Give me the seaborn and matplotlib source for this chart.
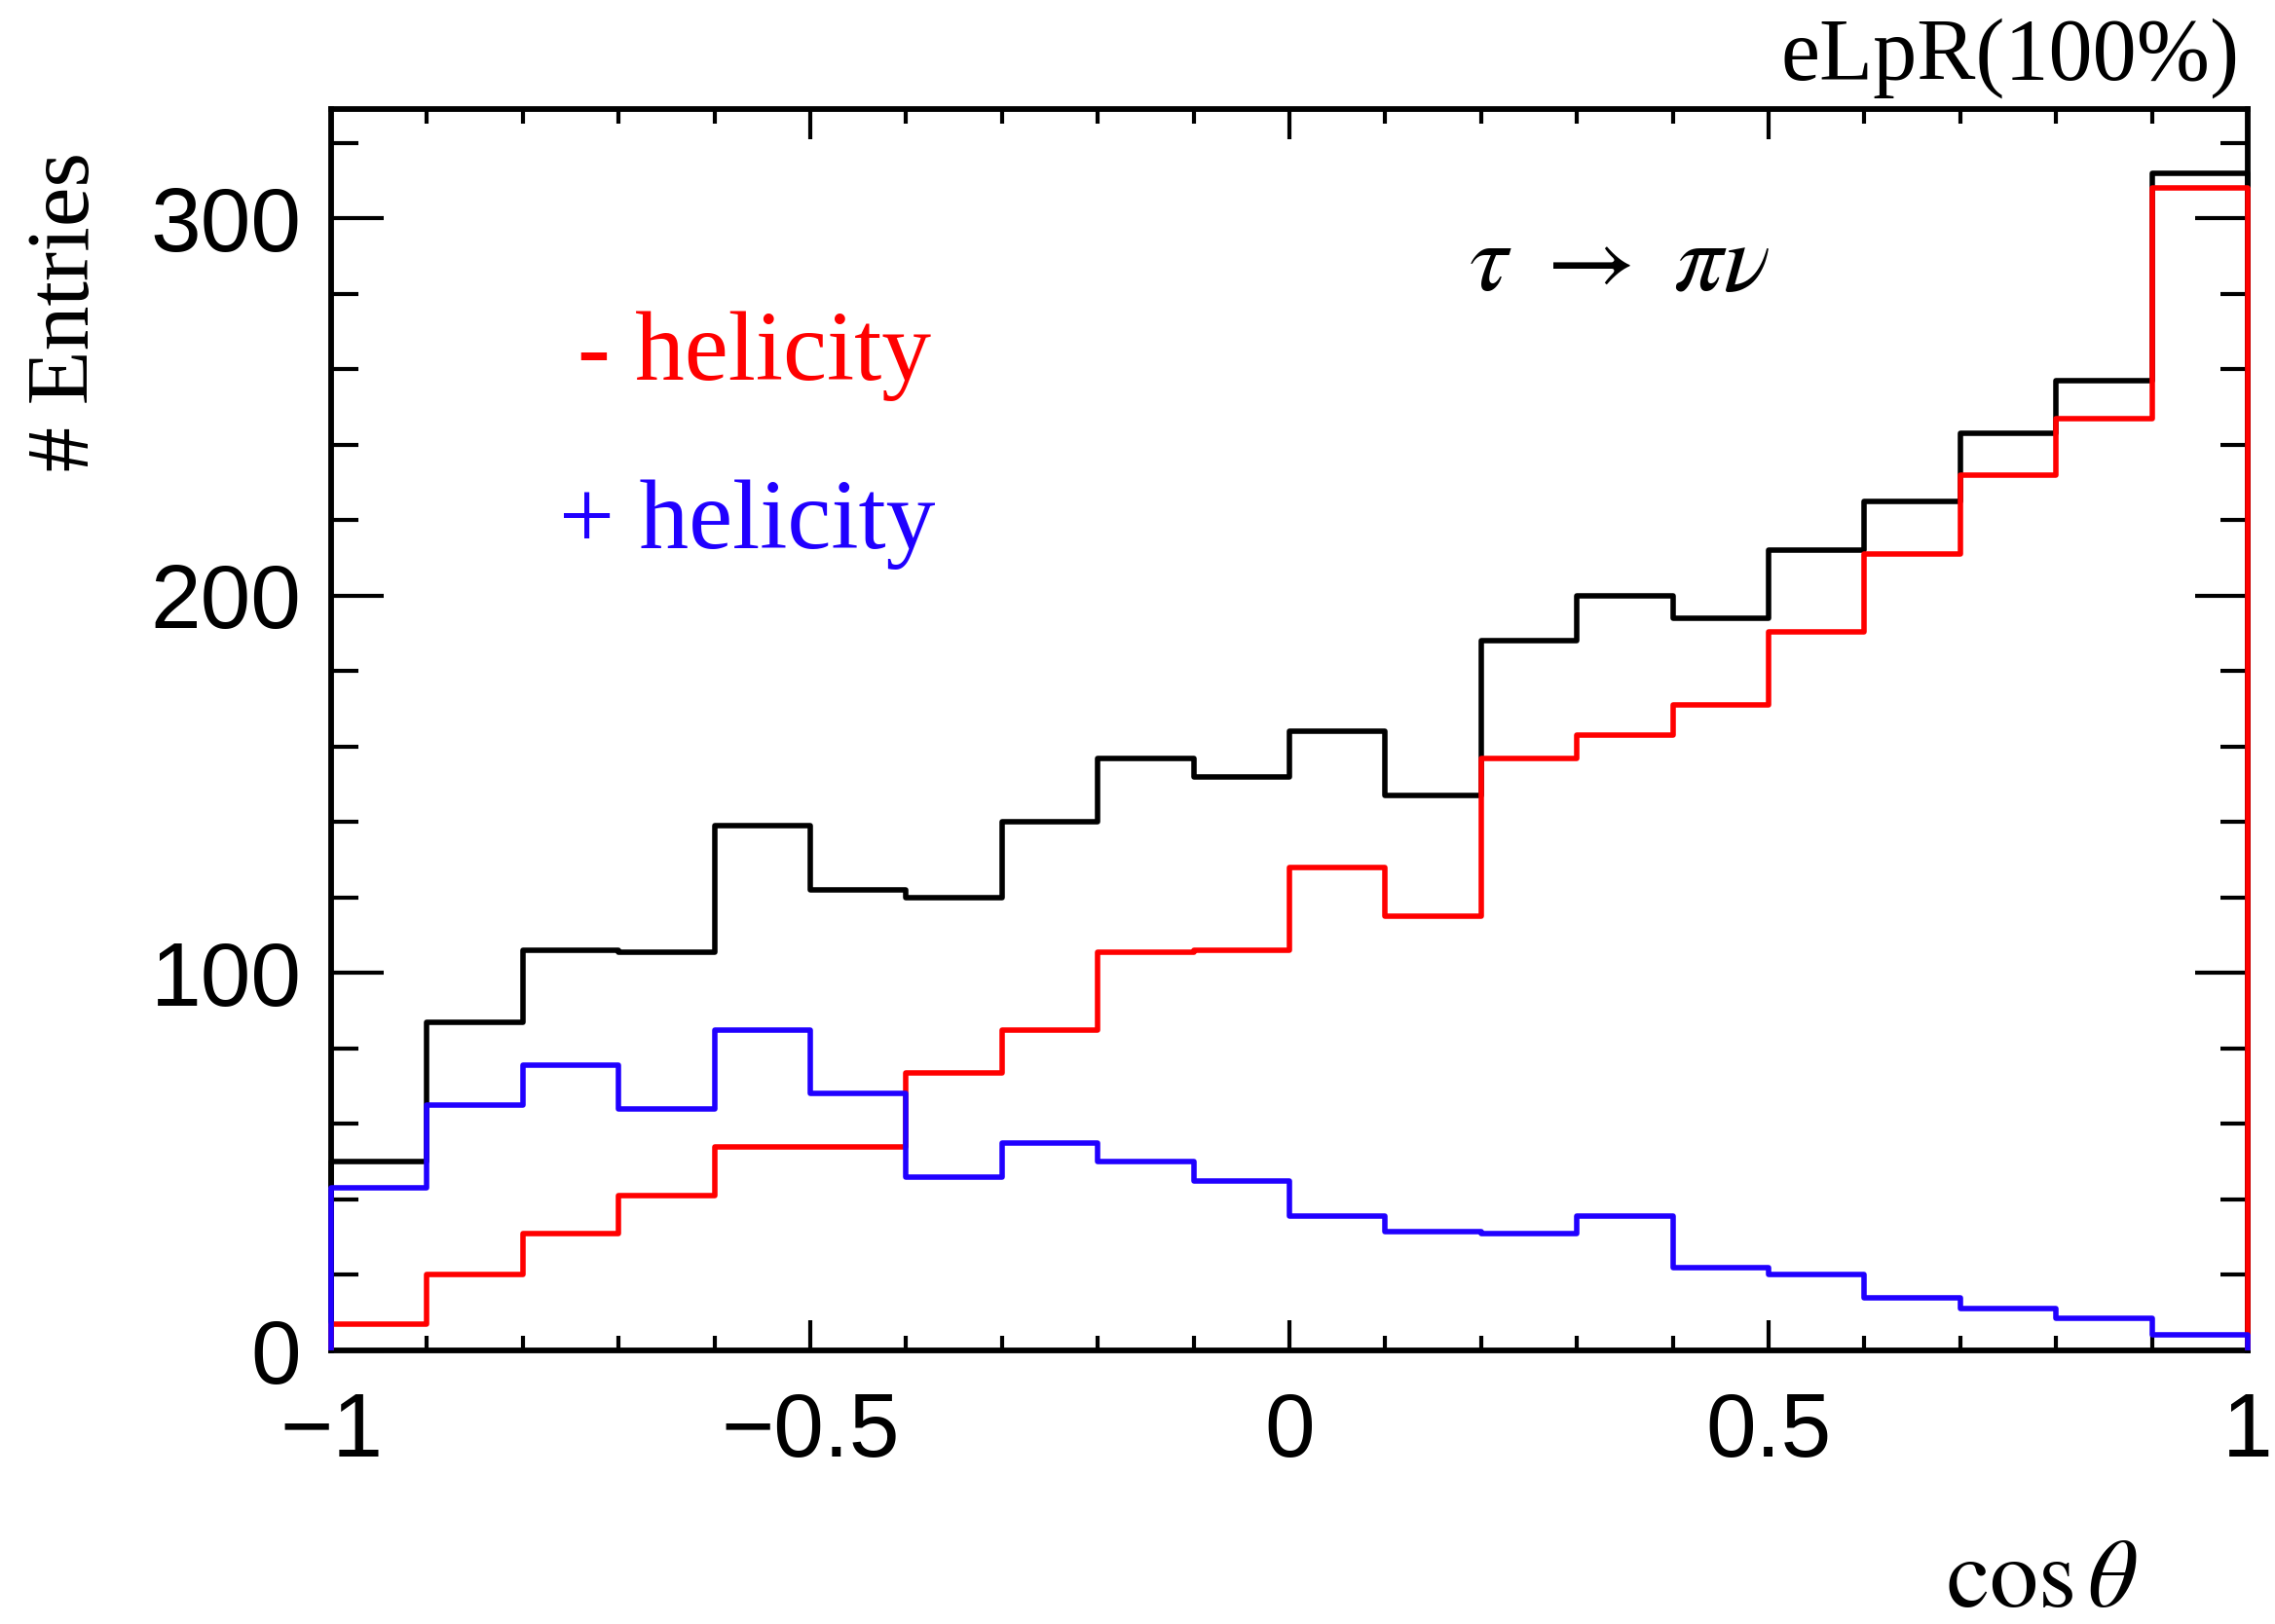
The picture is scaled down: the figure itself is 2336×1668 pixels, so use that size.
import numpy as np
import pandas as pd
import matplotlib
matplotlib.use("Agg")
import matplotlib.pyplot as plt
import seaborn as sns
from matplotlib.ticker import MultipleLocator

# ---- data ----
bin_centers = [-0.95, -0.85, -0.75, -0.65, -0.55, -0.45, -0.35, -0.25, -0.15, -0.05,
               0.05, 0.15, 0.25, 0.35, 0.45, 0.55, 0.65, 0.75, 0.85, 0.95]
total = [50, 87, 106, 105.5, 139, 122, 120, 140, 157, 152,
         164, 147, 188, 200, 194, 212, 225, 243, 257, 312]
minus_helicity = [7, 20, 31, 41, 54, 54, 73.5, 85, 105.5, 106,
                  128, 115, 157, 163, 171, 190.5, 211, 232, 247, 308]
plus_helicity = [43, 65, 75.5, 64, 85, 68, 46, 55, 50, 45,
                 35.5, 31.5, 31, 35.5, 22, 20, 14, 11, 8.5, 4]

x_range = (-1, 1)
n_bins = 20
y_max = 329

series = [("total", total, "black"),
          ("- helicity", minus_helicity, "#ff0000"),
          ("+ helicity", plus_helicity, "#2000ff")]

sns.set_style("ticks")
plt.rcParams['font.family'] = ['Liberation Sans', 'DejaVu Sans']
plt.rcParams['mathtext.fontset'] = 'stix'
plt.rcParams['text.color'] = 'black'
plt.rcParams['xtick.color'] = 'black'
plt.rcParams['ytick.color'] = 'black'
plt.rcParams['xtick.labelcolor'] = 'black'
plt.rcParams['ytick.labelcolor'] = 'black'

W, H = 2336, 1668
fig = plt.figure(figsize=(W / 100, H / 100), dpi=100)
ax = fig.add_axes([340 / W, 1 - 1387 / H, (2308 - 340) / W, (1387 - 112) / H])

lw = 4.0
for name, vals, col in series:
    df = pd.DataFrame({"x": bin_centers, "w": vals})
    sns.histplot(data=df, x="x", weights="w", bins=n_bins, binrange=x_range,
                 element="step", fill=False, color=col, linewidth=lw, ax=ax,
                 zorder=5, clip_on=False)
    # ROOT-style outline drops to zero at the histogram edges
    ax.vlines([x_range[0]], 0, vals[0], color=col, linewidth=lw, zorder=5, clip_on=False)
    ax.vlines([x_range[1]], 0, vals[-1], color=col, linewidth=lw, zorder=5, clip_on=False)

ax.set_xlim(*x_range)
ax.set_ylim(0, y_max)
ax.set_xlabel("")
ax.set_ylabel("")

ax.xaxis.set_major_locator(MultipleLocator(0.5))
ax.xaxis.set_minor_locator(MultipleLocator(0.1))
ax.yaxis.set_major_locator(MultipleLocator(100))
ax.yaxis.set_minor_locator(MultipleLocator(20))
ax.set_xticks([-1, -0.5, 0, 0.5, 1])
ax.set_xticklabels(["\u22121", "\u22120.5", "0", "0.5", "1"])

for s in ax.spines.values():
    s.set_linewidth(4.2)
    s.set_color("black")
    s.set_zorder(4)

ax.tick_params(axis="both", which="both", direction="in", top=True, right=True,
               width=3.0, color="black")
ax.tick_params(axis="y", which="major", length=39, labelsize=67, pad=22)
ax.tick_params(axis="y", which="minor", length=20)
ax.tick_params(axis="x", which="major", length=22, labelsize=67, pad=30)
ax.tick_params(axis="x", which="minor", length=11)

serif = ['Liberation Serif', 'DejaVu Serif']
fig.text(2300 / W, 1 - 82 / H, "eLpR(100%)", ha="right", va="baseline",
         fontsize=65, family=serif)
fig.text(110 / W, 1 - 156 / H, "# Entries", ha="right", va="top", rotation=90,
         fontsize=66, family=serif)
fig.text(2195 / W, 1 - 1650 / H, r"$\mathrm{cos}\,\theta$", ha="right", va="baseline",
         fontsize=72)
fig.text(593 / W, 1 - 390 / H, "- helicity", ha="left", va="baseline",
         fontsize=73, family=serif, color="#ff0000")
fig.text(574 / W, 1 - 563 / H, "+ helicity", ha="left", va="baseline",
         fontsize=73, family=serif, color="#2000ff")
fig.text(1508 / W, 1 - 298 / H, r"$\tau\ \rightarrow\ \pi\nu$", ha="left", va="baseline",
         fontsize=72)

fig.savefig("out.png", dpi=100)
